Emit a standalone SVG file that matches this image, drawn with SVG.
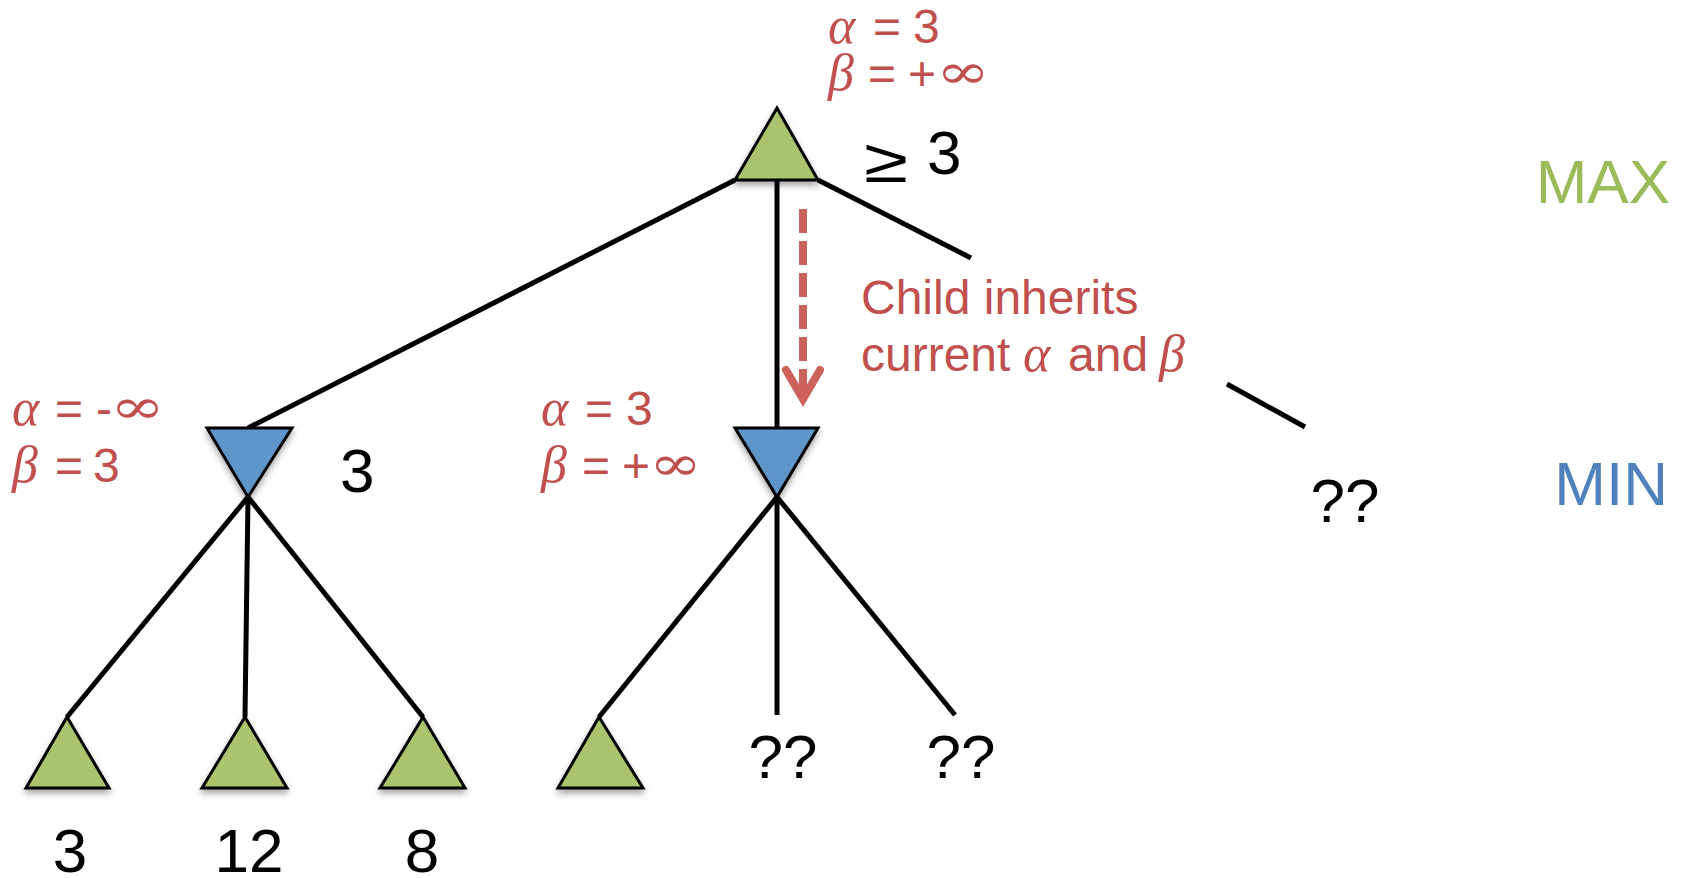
<svg xmlns="http://www.w3.org/2000/svg" width="1687" height="878" viewBox="0 0 1687 878">
<style>
.edge{stroke:#000;stroke-width:5;fill:none}
.max{fill:#A9C46C;stroke:#000;stroke-width:3;stroke-linejoin:miter}
.min{fill:#5E96CA;stroke:#000;stroke-width:3;stroke-linejoin:miter}
.val{font-family:"Liberation Sans",Arial,sans-serif;font-size:62px;fill:#000}
.red{font-family:"Liberation Sans",Arial,sans-serif;font-size:48px;fill:#C0504D}
.gr{font-family:"Liberation Serif","DejaVu Serif",serif;font-style:italic;font-size:52px}
.inf{font-family:"DejaVu Serif","Liberation Serif",serif;font-size:48px;fill:#C0504D}
.lvl{font-family:"Liberation Sans",Arial,sans-serif;font-size:62px;text-anchor:end}
</style>
<defs>
<filter id="sh" x="-20%" y="-20%" width="140%" height="150%">
<feDropShadow dx="0" dy="4" stdDeviation="3" flood-color="#000" flood-opacity="0.35"/>
</filter>
</defs>
<g id="connectors">
<line class="edge" x1="735" y1="180" x2="248" y2="428"/>
<line class="edge" x1="777" y1="180" x2="777" y2="428"/>
<line class="edge" x1="818" y1="180" x2="971" y2="258"/>
<line class="edge" x1="1227" y1="384" x2="1305" y2="427"/>
<line class="edge" x1="248" y1="497" x2="67" y2="717"/>
<line class="edge" x1="248" y1="497" x2="245" y2="717"/>
<line class="edge" x1="248" y1="497" x2="423" y2="717"/>
<line class="edge" x1="777" y1="497" x2="599" y2="717"/>
<line class="edge" x1="777" y1="497" x2="777" y2="715"/>
<line class="edge" x1="777" y1="497" x2="955" y2="715"/>
<g id="inherit-arrow" stroke="#CD625C" stroke-width="8" fill="none">
<line x1="803" y1="209" x2="803" y2="392" stroke-dasharray="24 8" stroke-linecap="butt"/>
<polyline points="786,370 803,399 820,370" stroke-linecap="round" stroke-linejoin="miter"/>
</g>
</g>
<g id="root">
<polygon class="max" filter="url(#sh)" points="777,108 818,180 735,180"/>
<text class="red" y="43"><tspan class="gr" x="828">α</tspan><tspan x="873">=</tspan><tspan x="913">3</tspan></text>
<text class="red" y="90"><tspan class="gr" x="828">β</tspan><tspan x="868">=</tspan><tspan x="908">+</tspan></text>
<text class="inf" x="936" y="88" textLength="54" lengthAdjust="spacingAndGlyphs">∞</text>
<text class="val" x="864" y="182" font-family="Liberation Serif, serif" font-size="78" textLength="44" lengthAdjust="spacingAndGlyphs">≥</text>
<text class="val" x="927" y="174">3</text>
</g>
<g id="min1">
<polygon class="min" filter="url(#sh)" points="207,428 292,428 248,497"/>
<text class="red" y="425"><tspan class="gr" x="12">α</tspan><tspan x="55">=</tspan><tspan x="96">-</tspan></text>
<text class="inf" x="110" y="423" textLength="55" lengthAdjust="spacingAndGlyphs">∞</text>
<text class="red" y="482"><tspan class="gr" x="12">β</tspan><tspan x="55">=</tspan><tspan x="93">3</tspan></text>
<text class="val" x="340" y="492">3</text>
</g>
<g id="min2">
<polygon class="min" filter="url(#sh)" points="735,428 818,428 777,497"/>
<text class="red" y="425"><tspan class="gr" x="541">α</tspan><tspan x="585">=</tspan><tspan x="626">3</tspan></text>
<text class="red" y="482"><tspan class="gr" x="541">β</tspan><tspan x="582">=</tspan><tspan x="622">+</tspan></text>
<text class="inf" x="649" y="480" textLength="53" lengthAdjust="spacingAndGlyphs">∞</text>
</g>
<g id="leaf1">
<polygon class="max" filter="url(#sh)" points="67,717 109,788 26,788"/>
<text class="val" x="70" y="872" text-anchor="middle">3</text>
</g>
<g id="leaf2">
<polygon class="max" filter="url(#sh)" points="245,717 287,788 202,788"/>
<text class="val" x="249" y="872" text-anchor="middle">12</text>
</g>
<g id="leaf3">
<polygon class="max" filter="url(#sh)" points="423,717 465,788 380,788"/>
<text class="val" x="422" y="872" text-anchor="middle">8</text>
</g>
<g id="leaf4">
<polygon class="max" filter="url(#sh)" points="599,717 643,788 558,788"/>
</g>
<g id="leaf5">
<text class="val" x="783" y="778" text-anchor="middle">??</text>
</g>
<g id="leaf6">
<text class="val" x="961" y="778" text-anchor="middle">??</text>
</g>
<g id="min3">
<text class="val" x="1345" y="522" text-anchor="middle">??</text>
</g>
<g id="note">
<text class="red" x="861" y="314">Child inherits</text>
<text class="red" y="371"><tspan x="861">current</tspan><tspan class="gr" x="1023">α</tspan><tspan x="1068">and</tspan><tspan class="gr" x="1159">β</tspan></text>
</g>
<g id="levels">
<text class="lvl" x="1670" y="203" fill="#9BBB59">MAX</text>
<text class="lvl" x="1668" y="505" fill="#4F81BD">MIN</text>
</g>
</svg>
